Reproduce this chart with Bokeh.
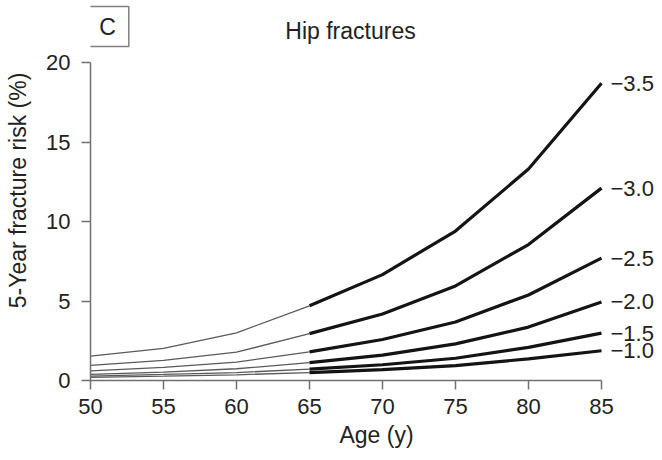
from bokeh.plotting import figure
from bokeh.models import Range1d, ColumnDataSource, LabelSet, Label, FixedTicker
from bokeh.core.properties import value
from bokeh.embed import file_html
from bokeh.resources import INLINE

# ---- data ----
ages = [50, 55, 60, 65, 70, 75, 80, 85]
t_labels = ["\u22123.5", "\u22123.0", "\u22122.5", "\u22122.0", "\u22121.5", "\u22121.0"]
risk_m35 = [1.53, 2.02, 3.0, 4.70, 6.66, 9.40, 13.3, 18.7]
risk_m30 = [0.95, 1.26, 1.78, 2.95, 4.18, 5.95, 8.55, 12.1]
risk_m25 = [0.60, 0.82, 1.16, 1.80, 2.58, 3.68, 5.38, 7.7]
risk_m20 = [0.39, 0.53, 0.74, 1.12, 1.60, 2.30, 3.36, 4.94]
risk_m15 = [0.28, 0.38, 0.50, 0.71, 0.99, 1.40, 2.08, 2.98]
risk_m10 = [0.20, 0.27, 0.36, 0.50, 0.68, 0.94, 1.36, 1.87]
series = [risk_m35, risk_m30, risk_m25, risk_m20, risk_m15, risk_m10]
x_ticks = [50, 55, 60, 65, 70, 75, 80, 85]
y_ticks = [0, 5, 10, 15, 20]
split_age = 65

FONT = "Liberation Sans"
TXT = "#222222"

# layout in pixels: frame spans the canvas above/right of the axes,
# the axes themselves are bounded to the data extent
W, H = 662, 460
LEFT, BOTTOM = 90, 80
AX_W, AX_H = 511, 318          # pixel length of the 50-85 and 0-20 spans
x_end = x_ticks[0] + (x_ticks[-1] - x_ticks[0]) * (W - LEFT) / AX_W
y_end = y_ticks[0] + (y_ticks[-1] - y_ticks[0]) * (H - BOTTOM) / AX_H

p = figure(width=W, height=H, output_backend="svg", toolbar_location=None,
           x_range=Range1d(x_ticks[0], x_end), y_range=Range1d(y_ticks[0], y_end),
           min_border_left=LEFT, min_border_right=0, min_border_top=0,
           min_border_bottom=BOTTOM)
p.outline_line_color = None
p.grid.visible = False
p.background_fill_color = "white"
p.border_fill_color = "white"

for ax in (p.xaxis[0], p.yaxis[0]):
    ax.axis_line_color = "#707070"
    ax.axis_line_width = 1.5
    ax.major_tick_line_color = "#707070"
    ax.major_tick_line_width = 1.5
    ax.major_tick_out = 9
    ax.major_tick_in = 0
    ax.minor_tick_line_color = None
    ax.major_label_text_font = FONT
    ax.major_label_text_font_size = "22px"
    ax.major_label_text_color = TXT
    ax.axis_label_text_font = FONT
    ax.axis_label_text_font_size = "23px"
    ax.axis_label_text_font_style = "normal"
    ax.axis_label_text_color = TXT

p.xaxis.bounds = (x_ticks[0], x_ticks[-1])
p.yaxis.bounds = (y_ticks[0], y_ticks[-1])
p.xaxis.ticker = FixedTicker(ticks=x_ticks)
p.yaxis.ticker = FixedTicker(ticks=y_ticks)
p.xaxis.axis_label = "Age (y)"
p.yaxis.axis_label = "5-Year fracture risk (%)"
p.xaxis.major_label_standoff = 9
p.xaxis.axis_label_standoff = 5
p.yaxis.major_label_standoff = 11
p.yaxis.axis_label_standoff = 12

k = ages.index(split_age)
for vals in series:
    p.line(ages[:k + 1], vals[:k + 1], line_color="#5a5a5a", line_width=1.3)
    p.line(ages[k:], vals[k:], line_color="#141414", line_width=3.2)

lab_src = ColumnDataSource(dict(x=[ages[-1]] * len(series),
                                y=[s[-1] for s in series],
                                text=t_labels))
p.add_layout(LabelSet(x="x", y="y", text="text", source=lab_src, x_offset=9,
                      text_baseline="middle", text_align="left",
                      text_font=value(FONT), text_font_size=value("22px"),
                      text_color=TXT))

p.add_layout(Label(x=260, y=350, x_units="screen", y_units="screen",
                   text="Hip fractures", text_align="center", text_baseline="middle",
                   text_font=FONT, text_font_size="23px", text_color=TXT))

p.add_layout(Label(x=17, y=354, x_units="screen", y_units="screen",
                   text="C", text_align="center", text_baseline="middle",
                   text_font=FONT, text_font_size="23px", text_color=TXT,
                   border_line_color="#808080", border_line_width=1.5,
                   background_fill_color="white",
                   padding=dict(left=13, right=13, top=7, bottom=7)))

open("out.html", "w").write(file_html(p, INLINE))
